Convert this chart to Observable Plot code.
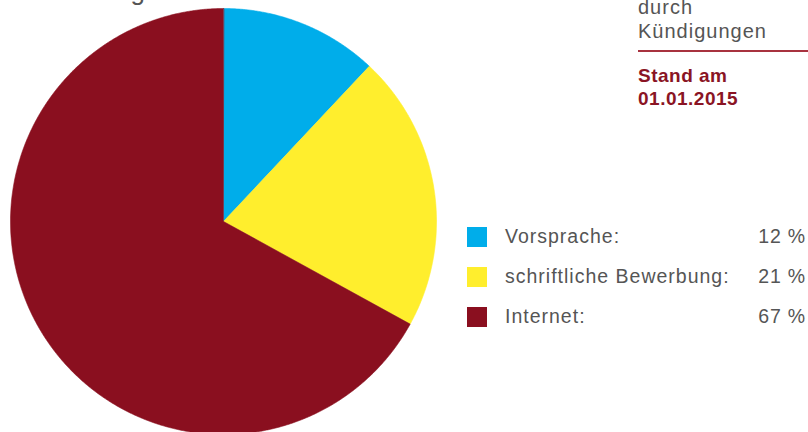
<!DOCTYPE html>
<html>
<head>
<meta charset="utf-8">
<script src="https://cdn.jsdelivr.net/npm/d3@7"></script>
<script src="https://cdn.jsdelivr.net/npm/@observablehq/plot@0.6"></script>
<style>
  html, body { margin: 0; padding: 0; background: #fff; }
  #wrap { position: relative; width: 808px; height: 432px; overflow: hidden; font-family: "Liberation Sans", Arial, sans-serif; }
  #wrap svg { position: absolute; left: 0; top: 0; }
  .abs { position: absolute; white-space: nowrap; }
  .gray { color: #555555; }
  .red { color: #8a1424; font-weight: bold; }
</style>
</head>
<body>
<div id="wrap"></div>
<script>
const categories = ["Vorsprache:", "schriftliche Bewerbung:", "Internet:"];
const values = [12, 21, 67];
const colors = ["#00adea", "#ffee2d", "#8a0f1f"];
const titleText = "Bewerbung";
const noteLines = ["durch", "Kündigungen"];
const standLines = ["Stand am", "01.01.2015"];

// build slice polygons from the values (pie starts at 12 o'clock, clockwise)
const arcs = d3.pie().sort(null).value(d => d.value)(categories.map((name, i) => ({name, value: values[i]})));
const pts = [];
for (const a of arcs) {
  const name = a.data.name;
  pts.push({name, x: 0, y: 0});
  const n = Math.max(4, Math.ceil((a.endAngle - a.startAngle) / 0.005));
  for (let k = 0; k <= n; k++) {
    const t = a.startAngle + (a.endAngle - a.startAngle) * k / n;
    pts.push({name, x: Math.sin(t), y: Math.cos(t)});
  }
}

const chart = Plot.plot({
  width: 808,
  height: 432,
  margin: 0,
  x: {domain: [-1, 1], range: [10, 436], axis: null},
  y: {domain: [-1, 1], range: [434, 8], axis: null},
  color: {domain: categories, range: colors},
  marks: [
    Plot.line(pts, {x: "x", y: "y", z: "name", fill: "name", stroke: "name", strokeWidth: 0.6, curve: "linear-closed"})
  ]
});

const wrap = document.getElementById("wrap");
wrap.appendChild(chart);

function addText(txt, left, top, size, cls, extra) {
  const d = document.createElement("div");
  d.className = "abs " + cls;
  d.textContent = txt;
  d.style.left = left + "px";
  d.style.top = top + "px";
  d.style.fontSize = size + "px";
  d.style.lineHeight = size + "px";
  Object.assign(d.style, extra || {});
  wrap.appendChild(d);
  return d;
}

// partially visible title (cut at the top edge)
addText(titleText, 11, -22, 26, "gray", {letterSpacing: "0.3px"});

// top-right notes
noteLines.forEach((t, i) => addText(t, 638, -3 + i * 24, 20, "gray", {letterSpacing: "1px"}));
const rule = document.createElement("div");
rule.className = "abs";
Object.assign(rule.style, {left: "638px", top: "50px", width: "170px", height: "2px", background: "#a8323f"});
wrap.appendChild(rule);
standLines.forEach((t, i) => addText(t, 638, 66 + i * 23, 19, "red", {letterSpacing: "0.5px"}));

// legend
categories.forEach((c, i) => {
  const y = 227 + i * 40;
  const sw = document.createElement("div");
  sw.className = "abs";
  Object.assign(sw.style, {left: "467px", top: y + "px", width: "20px", height: "20px", background: colors[i]});
  wrap.appendChild(sw);
  addText(c, 505, y, 19.5, "gray", {letterSpacing: "1px"});
  addText(values[i] + " %", 0, y, 19.5, "gray", {letterSpacing: "0.8px", left: "auto", right: "2px", textAlign: "right"});
});
</script>
</body>
</html>
